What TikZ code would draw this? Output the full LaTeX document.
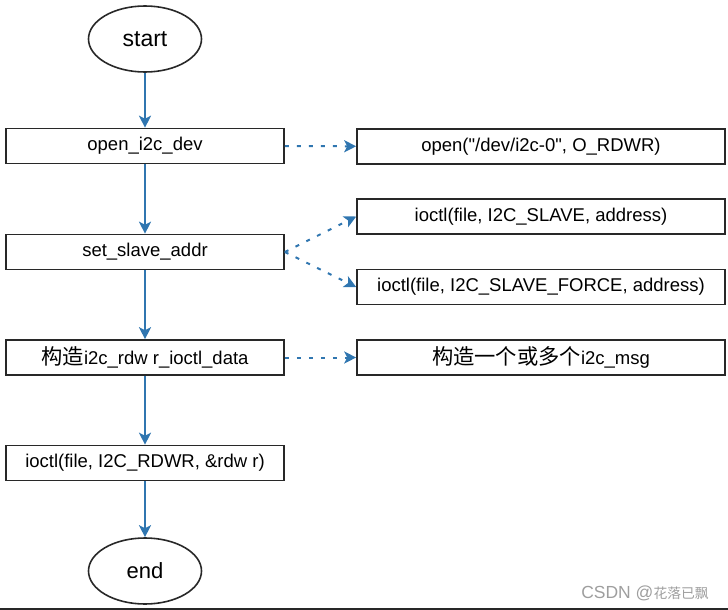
\documentclass[tikz,border=0pt]{standalone}
\usepackage{fontspec}
\setmainfont{Liberation Sans}
\newfontfamily\cjk[Scale=1.15]{Noto Sans CJK SC}
\usetikzlibrary{arrows.meta,shapes.geometric}
\definecolor{flowblue}{RGB}{48,118,176}
\definecolor{boxgray}{RGB}{40,40,40}
\begin{document}
\begin{tikzpicture}[x=1pt,y=-1pt,>={Stealth[length=12pt,width=12pt,inset=3pt]},
  terminal/.style={draw=boxgray,line width=1.6pt,ellipse,minimum width=113pt,minimum height=66pt,inner sep=0pt,font=\fontsize{23}{26}\selectfont},
  stepbox/.style={draw=boxgray,line width=1.6pt,rectangle,minimum width=278pt,minimum height=35pt,inner sep=0pt,font=\fontsize{18.5}{20}\selectfont},
  callbox/.style={stepbox,minimum width=368pt},
  flow/.style={->,draw=flowblue,line width=2pt},
  call/.style={->,draw=flowblue,line width=2pt,dash pattern=on 4pt off 8pt}]
  \useasboundingbox (0,0) rectangle (728,610);
  % Main flow
  \node[terminal] (start) at (145,39) {start};
  \node[stepbox] (open) at (145,146) {open\_i2c\_dev};
  \node[stepbox] (setaddr) at (145,252) {set\_slave\_addr};
  \node[stepbox] (build) at (145,357.5) {{\cjk 构造}i2c\_rdw r\_ioctl\_data};
  \node[stepbox] (rdwr) at (145,463) {ioctl(file, I2C\_RDWR, \&rdw r)};
  \node[terminal,font=\fontsize{22}{25}\selectfont] (end) at (145,571) {end};

  % System calls
  \node[callbox] (openfile) at (541,146.5) {open(\textquotedbl/dev/i2c-0\textquotedbl, O\_RDWR)};
  \node[callbox] (slave) at (541,216.5) {ioctl(file, I2C\_SLAVE, address)};
  \node[callbox] (force) at (541,287) {ioctl(file, I2C\_SLAVE\_FORCE, address)};
  \node[callbox] (msgs) at (541,357.5) {{\cjk 构造一个或多个}i2c\_msg};

  \draw[flow] (start) -- (open);
  \draw[flow] (open) -- (setaddr);
  \draw[flow] (setaddr) -- (build);
  \draw[flow] (build) -- (rdwr);
  \draw[flow] (rdwr) -- (end);

  \draw[call] (open) -- (openfile);
  \draw[call] (setaddr.east) -- (slave.west);
  \draw[call] (setaddr.east) -- (force.west);
  \draw[call] (build) -- (msgs);

  % Watermark and lower edge
  \node[text=black!38,font=\fontsize{17.5}{19}\selectfont] (mark) at (645,593) {CSDN @{\cjk\fontsize{12}{13}\selectfont 花落已飘}};
  \coordinate (edgeL) at (0,608.5);
  \coordinate (edgeR) at (728,608.5);
  \draw[boxgray,line width=2pt] (edgeL) -- (edgeR);
\end{tikzpicture}
\end{document}
